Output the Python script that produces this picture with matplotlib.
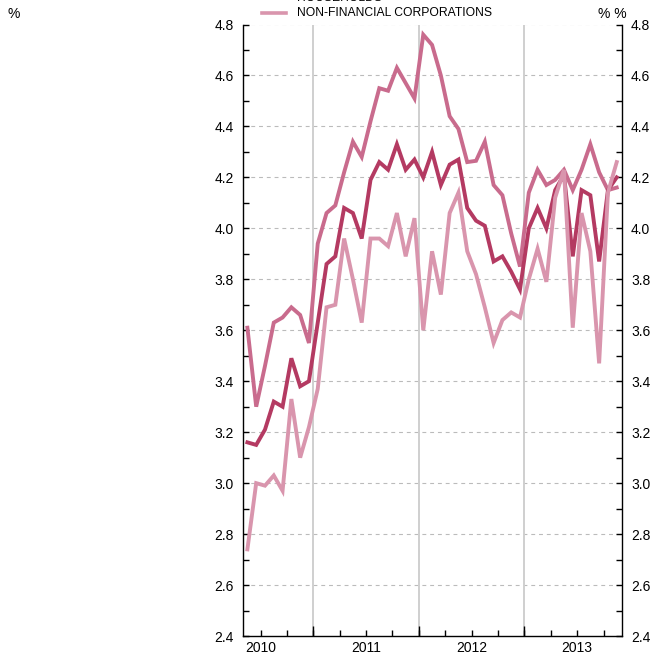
import matplotlib
matplotlib.use("Agg")
import matplotlib.pyplot as plt
from matplotlib.lines import Line2D
import numpy as np

plt.rcParams['font.family'] = ['Liberation Sans', 'DejaVu Sans']

# Monthly observations, May 2010 .. Nov 2013
start_month = 4          # months since Jan 2010 (May 2010)
series_top = [3.61, 3.30, 3.46, 3.63, 3.65, 3.69, 3.66, 3.55, 3.94, 4.06,
              4.09, 4.22, 4.34, 4.28, 4.42, 4.55, 4.54, 4.63, 4.57, 4.51,
              4.76, 4.72, 4.60, 4.44, 4.39, 4.26, 4.265, 4.34, 4.17, 4.13,
              3.98, 3.85, 4.14, 4.23, 4.17, 4.19, 4.23, 4.15, 4.23, 4.33,
              4.22, 4.15, 4.16]
households = [3.16, 3.15, 3.21, 3.32, 3.30, 3.49, 3.38, 3.40, 3.63, 3.86,
              3.89, 4.08, 4.06, 3.96, 4.19, 4.26, 4.23, 4.33, 4.23, 4.27,
              4.20, 4.30, 4.17, 4.25, 4.27, 4.08, 4.03, 4.01, 3.87, 3.89,
              3.83, 3.76, 4.00, 4.08, 4.00, 4.15, 4.21, 3.89, 4.15, 4.13,
              3.87, 4.15, 4.20]
nfc = [2.74, 3.00, 2.99, 3.03, 2.97, 3.33, 3.10, 3.22, 3.37, 3.69,
       3.70, 3.96, 3.80, 3.63, 3.96, 3.96, 3.93, 4.06, 3.89, 4.04,
       3.60, 3.91, 3.74, 4.06, 4.14, 3.91, 3.82, 3.69, 3.55, 3.64,
       3.67, 3.65, 3.80, 3.92, 3.79, 4.12, 4.23, 3.61, 4.06, 3.91,
       3.47, 4.14, 4.26]
years = ["2010", "2011", "2012", "2013"]
legend_labels = ["HOUSEHOLDS", "NON-FINANCIAL CORPORATIONS"]

c_top = "#c96b8d"
c_dark = "#b43a62"
c_light = "#d995ad"

x = start_month + 0.5 + np.arange(len(nfc))

fig = plt.figure(figsize=(6.51, 6.55), dpi=100)
ax = fig.add_axes([243/651, 1-636/655, (622-243)/651, (636-24.5)/655])

ax.set_xlim(4.0, 47.1)
ax.set_ylim(2.4, 4.8)

# grid
for yv in np.arange(2.6, 4.81, 0.2):
    ax.axhline(yv, color="#bbbbbb", lw=0.8, dashes=(3.5, 3.5), zorder=0)
for xv in [12, 24, 36]:
    ax.axvline(xv, color="#cfcfcf", lw=1.4, zorder=0)

ax.plot(x, series_top, color=c_top, lw=2.8, solid_joinstyle='miter', zorder=2)
ax.plot(x, households, color=c_dark, lw=2.8, solid_joinstyle='miter', zorder=3)
ax.plot(x, nfc, color=c_light, lw=2.8, solid_joinstyle='miter', zorder=4)

# spines
ax.spines['top'].set_visible(False)
for s in ['left', 'right', 'bottom']:
    ax.spines[s].set_linewidth(1.0)
    ax.spines[s].set_color('black')

# y ticks
yt = np.round(np.arange(2.4, 4.81, 0.2), 1)
ax.set_yticks(yt)
ax.set_yticklabels([f"{v:.1f}" for v in yt])
ax.set_yticks(np.round(np.arange(2.5, 4.8, 0.2), 1), minor=True)
ax.tick_params(axis='y', which='both', direction='in', left=True, right=True,
               labelleft=True, labelright=True, length=4, width=1.0,
               labelsize=10, pad=6.5)

# x ticks: quarterly ticks, year labels at mid-year
qt = list(range(6, 48, 3))
ax.set_xticks(qt)
ax.set_xticklabels([years[(q - 6)//12] if (q - 6) % 12 == 0 else "" for q in qt])
ax.tick_params(axis='x', which='major', direction='in', length=4, width=1.0,
               labelsize=10, pad=3.5)
sec = ax.secondary_xaxis('bottom')
sec.set_xticks([12, 24, 36])
sec.set_xticklabels([])
sec.tick_params(direction='in', length=7, width=1.0)
sec.spines['bottom'].set_visible(False)

# legend (top entry partially outside the frame)
legend_colors = [c_top, c_light]
for i, (lab, col) in enumerate(zip(legend_labels, legend_colors)):
    ypx = 13 - 14.5 * (len(legend_labels) - 1 - i)
    yf = 1 - ypx/655
    fig.add_artist(Line2D([262/651, 286/651], [yf, yf], color=col, lw=2.6))
    fig.text(297/651, yf, lab, fontsize=8.7, va='center', ha='left')

fig.text(14/651, 1-14/655, "%", fontsize=10, va='center', ha='center')
fig.text(627/651, 1-14/655, "% %", fontsize=10, va='center', ha='right')

fig.savefig("out.png", dpi=100)
